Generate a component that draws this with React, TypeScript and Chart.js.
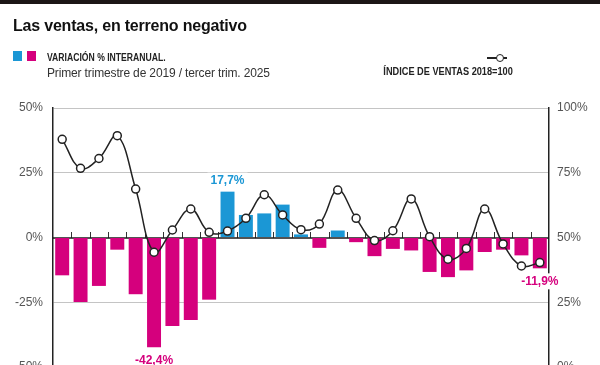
import React, { useEffect, useRef } from "react";
import { Chart, registerables } from "chart.js";

Chart.register(...registerables);

const categories = [
  "2019-T1", "2019-T2", "2019-T3", "2019-T4",
  "2020-T1", "2020-T2", "2020-T3", "2020-T4",
  "2021-T1", "2021-T2", "2021-T3", "2021-T4",
  "2022-T1", "2022-T2", "2022-T3", "2022-T4",
  "2023-T1", "2023-T2", "2023-T3", "2023-T4",
  "2024-T1", "2024-T2", "2024-T3", "2024-T4",
  "2025-T1", "2025-T2", "2025-T3",
];

const variacion = [
  -14.6, -24.9, -18.7, -4.7, -21.9, -42.4, -34.2, -31.9, -24.0,
  17.7, 8.7, 9.3, 12.7, 1.2, -4.0, 2.7, -1.8, -7.2,
  -4.4, -5.0, -13.3, -15.3, -12.7, -5.6, -4.7, -6.9, -11.9,
];

const indice = [
  87.9, 76.7, 80.5, 89.3, 68.7, 44.3, 52.9, 61.0, 52.0,
  52.5, 57.4, 66.5, 58.7, 53.0, 55.2, 68.3, 57.4, 48.8,
  52.6, 64.9, 50.3, 41.6, 45.8, 61.0, 47.5, 39.0, 40.3,
];

const leftTicks = [-50, -25, 0, 25, 50];
const rightTicks = [0, 25, 50, 75, 100];
const labelledBars = [5, 9, 26];

const BLUE = "#1b97d5";
const PINK = "#d5007d";
const SANS = '"Liberation Sans", Arial, sans-serif';

const fmt = (v: number) => v.toFixed(1).replace(".", ",") + "%";

const overlay = {
  id: "overlay",
  beforeDatasetsDraw(chart: any) {
    const { ctx, chartArea, scales } = chart;
    const x = scales.x;
    const y = scales.y;
    const y0 = Math.round(y.getPixelForValue(0));
    ctx.save();
    ctx.strokeStyle = "#333";
    ctx.lineWidth = 1;
    for (let i = 1; i < categories.length; i++) {
      const px = Math.round((x.getPixelForValue(i - 1) + x.getPixelForValue(i)) / 2) + 0.5;
      ctx.beginPath();
      ctx.moveTo(px, y0);
      ctx.lineTo(px, y0 - 6);
      ctx.stroke();
    }
    ctx.strokeStyle = "#1a1a1a";
    ctx.lineWidth = 1.6;
    ctx.beginPath();
    ctx.moveTo(chartArea.left, y0);
    ctx.lineTo(chartArea.right, y0);
    ctx.stroke();
    ctx.restore();
  },
  afterDatasetsDraw(chart: any) {
    const { ctx } = chart;
    const meta = chart.getDatasetMeta(1);
    ctx.save();
    ctx.font = `bold 12px ${SANS}`;
    ctx.textAlign = "center";
    ctx.textBaseline = "middle";
    labelledBars.forEach((i) => {
      const el = meta.data[i];
      const v = variacion[i];
      const txt = fmt(v);
      const ty = v >= 0 ? el.y - 11 : el.y + 13;
      const w = ctx.measureText(txt).width + 6;
      ctx.fillStyle = "#fff";
      ctx.fillRect(el.x - w / 2, ty - 8, w, 16);
      ctx.fillStyle = v >= 0 ? BLUE : PINK;
      ctx.fillText(txt, el.x, ty);
    });
    ctx.restore();
  },
};

export default function App() {
  const ref = useRef<HTMLCanvasElement | null>(null);

  useEffect(() => {
    if (!ref.current) return;
    const chart = new Chart(ref.current, {
      type: "bar",
      data: {
        labels: categories,
        datasets: [
          {
            type: "line",
            label: "Índice de ventas 2018=100",
            data: indice,
            yAxisID: "y1",
            order: 0,
            borderColor: "#222",
            borderWidth: 1.5,
            tension: 0.4,
            pointRadius: 4,
            pointBackgroundColor: "#fff",
            pointBorderColor: "#222",
            pointBorderWidth: 1.5,
          } as any,
          {
            type: "bar",
            label: "Variación % interanual",
            data: variacion,
            yAxisID: "y",
            order: 1,
            backgroundColor: variacion.map((v) => (v >= 0 ? BLUE : PINK)),
            barPercentage: 0.76,
            categoryPercentage: 1,
          },
        ],
      },
      options: {
        animation: false,
        responsive: false,
        devicePixelRatio: 1,
        layout: { padding: { top: 108, bottom: 20, left: 0, right: 0 } },
        plugins: { legend: { display: false }, tooltip: { enabled: false } },
        scales: {
          x: { display: false, offset: true },
          y: {
            position: "left",
            min: -50,
            max: 50,
            afterBuildTicks: (s: any) => {
              s.ticks = leftTicks.map((v) => ({ value: v }));
            },
            afterFit: (s: any) => {
              s.width = 53;
            },
            grid: {
              drawTicks: false,
              color: (c: any) => (c.tick && c.tick.value === 0 ? "rgba(0,0,0,0)" : "#c4c4c4"),
              lineWidth: 1,
            },
            border: { display: true, color: "#222", width: 1.5 },
            ticks: {
              padding: 10,
              color: "#555",
              font: { family: SANS, size: 12 },
              callback: (v: any) => v + "%",
            },
          },
          y1: {
            position: "right",
            min: 0,
            max: 100,
            afterBuildTicks: (s: any) => {
              s.ticks = rightTicks.map((v) => ({ value: v }));
            },
            afterFit: (s: any) => {
              s.width = 51;
            },
            grid: { display: false, drawTicks: false },
            border: { display: true, color: "#222", width: 1.5 },
            ticks: {
              padding: 8,
              color: "#555",
              font: { family: SANS, size: 12 },
              callback: (v: any) => v + "%",
            },
          },
        },
      },
      plugins: [overlay],
    });
    return () => chart.destroy();
  }, []);

  const abs = (s: React.CSSProperties): React.CSSProperties => ({ position: "absolute", margin: 0, whiteSpace: "nowrap", ...s });

  return (
    <div style={{ position: "absolute", left: 0, top: 0, width: 600, height: 365, overflow: "hidden", background: "#fff" }}>
      <canvas ref={ref} width={600} height={387} style={{ position: "absolute", left: 0, top: 0, width: 600, height: 387 }} />
      <div style={abs({ left: 0, top: 0, width: 600, height: 4, background: "#1c1616" })} />
      <div style={abs({ left: 13, top: 18, fontFamily: SANS, fontWeight: "bold", fontSize: 16, lineHeight: "16px", letterSpacing: "-0.2px", color: "#111" })}>
        Las ventas, en terreno negativo
      </div>
      <div style={abs({ left: 13, top: 51, width: 9, height: 10, background: BLUE })} />
      <div style={abs({ left: 27, top: 51, width: 9, height: 10, background: PINK })} />
      <div style={abs({ left: 47, top: 52, fontFamily: SANS, fontWeight: "bold", fontSize: 11.5, lineHeight: "11.5px", color: "#222", transform: "scaleX(0.75)", transformOrigin: "left center" })}>
        VARIACIÓN % INTERANUAL.
      </div>
      <div style={abs({ left: 47, top: 67, fontFamily: SANS, fontSize: 12, lineHeight: "12px", letterSpacing: "-0.15px", color: "#333" })}>
        Primer trimestre de 2019 / tercer trim. 2025
      </div>
      <div style={abs({ left: 487, top: 57, width: 20, height: 1.5, background: "#222" })} />
      <div style={abs({ left: 495.5, top: 53.5, width: 6, height: 6, borderRadius: "50%", border: "1.5px solid #222", background: "#fff" })} />
      <div style={abs({ right: 87, top: 66, fontFamily: SANS, fontWeight: "bold", fontSize: 11.5, lineHeight: "11.5px", color: "#222", transform: "scaleX(0.8)", transformOrigin: "right center" })}>
        ÍNDICE DE VENTAS 2018=100
      </div>
    </div>
  );
}
